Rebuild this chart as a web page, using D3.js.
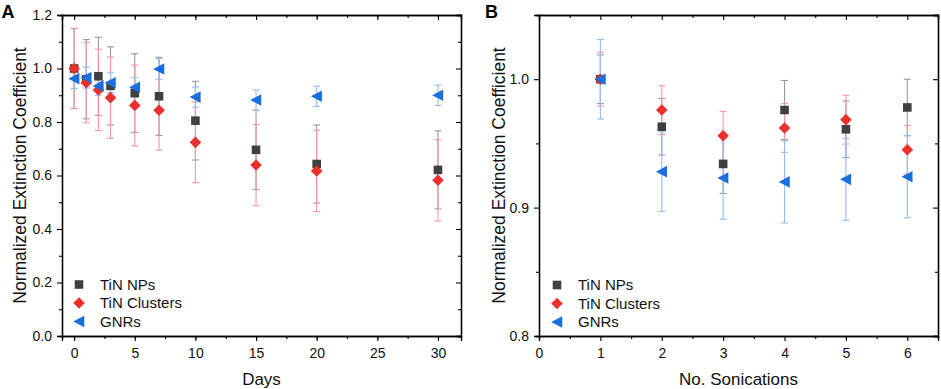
<!DOCTYPE html>
<html><head><meta charset="utf-8">
<script src="https://cdn.jsdelivr.net/npm/d3@7"></script>
<style>body{margin:0;background:#fff}svg{display:block;font-family:"Liberation Sans",Arial,sans-serif}</style>
</head><body><svg id="c" width="941" height="389"></svg>
<script>
// Panel A data (Days)
const daysA = [0, 1, 2, 3, 5, 7, 10, 15, 20, 30];
const npA   = [1.0, 0.96, 0.971, 0.935, 0.908, 0.896, 0.805, 0.696, 0.643, 0.621];
const npAerr= [0.15, 0.148, 0.146, 0.146, 0.147, 0.146, 0.147, 0.148, 0.146, 0.146];
const clA   = [1.0, 0.947, 0.92, 0.891, 0.862, 0.844, 0.724, 0.639, 0.617, 0.582];
const clAerr= [0.149, 0.15, 0.152, 0.152, 0.151, 0.149, 0.151, 0.152, 0.152, 0.152];
const gnA   = [0.962, 0.966, 0.935, 0.947, 0.93, 0.998, 0.893, 0.882, 0.896, 0.9];
const gnAerr= [0.037, 0.039, 0.035, 0.037, 0.036, 0.039, 0.038, 0.038, 0.038, 0.038];
// Panel B data (No. Sonications)
const sonB  = [1, 2, 3, 4, 5, 6];
const npB   = [1.0, 0.963, 0.934, 0.976, 0.961, 0.978];
const npBerr= [0.019, 0.022, 0.023, 0.023, 0.022, 0.022];
const clB   = [1.0, 0.976, 0.956, 0.962, 0.9685, 0.945];
const clBerr= [0.021, 0.019, 0.019, 0.019, 0.019, 0.019];
const gnB   = [1.0, 0.928, 0.923, 0.92, 0.922, 0.924];
const gnBerr= [0.031, 0.031, 0.032, 0.032, 0.032, 0.032];
const seriesNames = ["TiN NPs", "TiN Clusters", "GNRs"];
const yLabel = "Normalized Extinction Coefficient";

const markColor = ["#404040", "#e8302c", "#1a6fdc"];
const errColor  = ["#9a9a9a", "#f29a9a", "#94bcee"];

const svg = d3.select("#c");

function symPath(i, x, y) {
  if (i === 0) { const s = 4.3; return `M${x-s},${y-s}h${2*s}v${2*s}h${-2*s}Z`; }
  if (i === 1) { const s = 5.8; return `M${x},${y-s}L${x+s},${y}L${x},${y+s}L${x-s},${y}Z`; }
  const s = 5.8; return `M${x-s},${y}L${x+s*0.9},${y-s}L${x+s*0.9},${y+s}Z`;
}

function panel(opt) {
  const {left, right, top, bottom, xDom, yDom, xMajor, xMinor, yMajor, yMinor, xs, sets, xTitle, label, labelX, yFmt, legX, legY, yTitleX} = opt;
  const x = d3.scaleLinear().domain(xDom).range([left, right]);
  const y = d3.scaleLinear().domain(yDom).range([bottom, top]);
  const g = svg.append("g");
  const ax = (gen, tf) => g.append("g").attr("transform", tf).call(gen)
    .call(s => s.select(".domain").attr("stroke", "#000").attr("stroke-width", 1.3))
    .call(s => s.selectAll(".tick line").attr("stroke", "#000").attr("stroke-width", 1.1))
    .call(s => s.selectAll("text").attr("font-size", 14).attr("fill", "#111").attr("font-family", "Liberation Sans, Arial, sans-serif"));
  // minor ticks
  ax(d3.axisBottom(x).tickValues(xMinor).tickSize(3).tickFormat(""), `translate(0,${bottom})`);
  ax(d3.axisTop(x).tickValues(xMinor).tickSize(-3).tickFormat(""), `translate(0,${top})`);
  ax(d3.axisLeft(y).tickValues(yMinor).tickSize(3).tickFormat(""), `translate(${left},0)`);
  ax(d3.axisRight(y).tickValues(yMinor).tickSize(-3).tickFormat(""), `translate(${right},0)`);
  // major ticks
  ax(d3.axisBottom(x).tickValues(xMajor).tickSize(5).tickPadding(7).tickFormat(d3.format("d")), `translate(0,${bottom})`);
  ax(d3.axisTop(x).tickValues(xMajor).tickSize(-5).tickFormat(""), `translate(0,${top})`);
  ax(d3.axisLeft(y).tickValues(yMajor).tickSize(5).tickPadding(5).tickFormat(d3.format(yFmt)), `translate(${left},0)`);
  ax(d3.axisRight(y).tickValues(yMajor).tickSize(-5).tickFormat(""), `translate(${right},0)`);

  // error bars
  sets.forEach((s, i) => {
    xs.forEach((xv, j) => {
      const cx = x(xv), y1 = y(s.v[j] + s.e[j]), y2 = y(s.v[j] - s.e[j]);
      g.append("line").attr("x1", cx).attr("x2", cx).attr("y1", y1).attr("y2", y2)
        .attr("stroke", errColor[i]).attr("stroke-width", 1.1);
      [y1, y2].forEach(yy => g.append("line").attr("x1", cx - 3.5).attr("x2", cx + 3.5)
        .attr("y1", yy).attr("y2", yy).attr("stroke", errColor[i]).attr("stroke-width", 1.1));
    });
  });
  // markers
  sets.forEach((s, i) => {
    xs.forEach((xv, j) => {
      g.append("path").attr("d", symPath(i, x(xv), y(s.v[j]))).attr("fill", markColor[i]);
    });
  });
  // legend
  seriesNames.forEach((n, i) => {
    const yy = legY + i * 18.5;
    g.append("path").attr("d", symPath(i, legX, yy)).attr("fill", markColor[i]);
    g.append("text").attr("x", legX + 21).attr("y", yy).attr("dy", "0.35em")
      .attr("font-size", 15).attr("fill", "#111").text(n);
  });
  // titles
  g.append("text").attr("x", (left + right) / 2).attr("y", 385).attr("text-anchor", "middle")
    .attr("font-size", 17).attr("fill", "#111").text(xTitle);
  g.append("text").attr("transform", `translate(${yTitleX},${(top + bottom) / 2}) rotate(-90)`)
    .attr("text-anchor", "middle").attr("font-size", 17.5).attr("fill", "#111").text(yLabel);
  g.append("text").attr("x", labelX).attr("y", 17.5).attr("font-size", 18).attr("font-weight", "bold")
    .attr("fill", "#000").text(label);
}

panel({left: 62, right: 461, top: 15, bottom: 336, xDom: [-1, 31.9], yDom: [0, 1.2],
  xMajor: [0, 5, 10, 15, 20, 25, 30], xMinor: d3.range(0, 32, 2.5),
  yMajor: [0, 0.2, 0.4, 0.6, 0.8, 1.0, 1.2], yMinor: d3.range(0.1, 1.2, 0.2),
  xs: daysA, sets: [{v: npA, e: npAerr}, {v: clA, e: clAerr}, {v: gnA, e: gnAerr}],
  xTitle: "Days", label: "A", labelX: 1.5, yFmt: ".1f", legX: 79, legY: 284.5, yTitleX: 26});

panel({left: 539, right: 938, top: 15, bottom: 336, xDom: [0, 6.5], yDom: [0.8, 1.05],
  xMajor: [0, 1, 2, 3, 4, 5, 6], xMinor: d3.range(0.5, 6.6, 1),
  yMajor: [0.8, 0.9, 1.0], yMinor: [0.85, 0.95, 1.05],
  xs: sonB, sets: [{v: npB, e: npBerr}, {v: clB, e: clBerr}, {v: gnB, e: gnBerr}],
  xTitle: "No. Sonications", label: "B", labelX: 485, yFmt: ".1f", legX: 557, legY: 285, yTitleX: 505});
</script></body></html>
